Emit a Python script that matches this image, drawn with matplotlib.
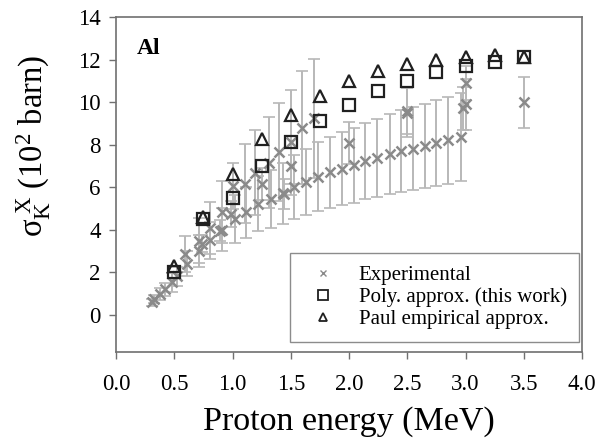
import matplotlib
matplotlib.use("Agg")
import matplotlib.pyplot as plt
import numpy as np

plt.rcParams['font.family'] = ['Liberation Serif', 'DejaVu Serif']
plt.rcParams['mathtext.fontset'] = 'custom'
plt.rcParams['mathtext.rm'] = 'Liberation Serif'
plt.rcParams['mathtext.it'] = 'Liberation Serif:italic'

# Experimental data set 1 (main series, ~25 % uncertainty)
exp1_x = [0.33, 0.42, 0.52, 0.61, 0.71, 0.81, 0.91, 1.02, 1.12, 1.22, 1.33, 1.43, 1.53,
          1.63, 1.73, 1.84, 1.94, 2.04, 2.14, 2.24, 2.35, 2.45, 2.55, 2.65, 2.75, 2.85, 2.96]
exp1_y = [0.75, 1.2, 1.8, 2.4, 3.0, 3.5, 4.0, 4.5, 4.83, 5.22, 5.46, 5.72, 6.02,
          6.24, 6.48, 6.7, 6.87, 7.03, 7.22, 7.37, 7.55, 7.69, 7.8, 7.94, 8.08, 8.2, 8.36]
exp1_err = [0.19, 0.3, 0.45, 0.6, 0.75, 0.88, 1.0, 1.12, 1.2, 1.3, 1.37, 1.43, 1.5,
            1.56, 1.62, 1.68, 1.72, 1.76, 1.8, 1.84, 1.89, 1.92, 1.95, 1.99, 2.02, 2.05, 2.09]

# Experimental data set 2 (steep series, ~30 % uncertainty)
exp2_x = [0.31, 0.38, 0.48, 0.59, 0.71, 0.81, 0.91, 1.0, 1.11, 1.19, 1.31, 1.40, 1.50, 1.60, 1.70]
exp2_y = [0.58, 0.98, 1.52, 2.86, 3.49, 4.09, 4.83, 6.05, 6.16, 6.67, 7.15, 7.66, 8.1, 8.8, 9.23]
exp2_err = [0.17, 0.29, 0.46, 0.86, 1.05, 1.23, 1.45, 1.1, 1.85, 2.0, 2.15, 2.3, 2.45, 2.65, 2.8]

# Experimental data set 3 (~12 % uncertainty)
exp3_x = [0.74, 0.89, 0.99, 1.25, 1.44, 1.50, 2.0, 2.5, 2.5, 3.0, 3.0, 2.98, 3.5]
exp3_y = [3.33, 3.96, 4.75, 6.16, 5.69, 7.0, 8.08, 9.5, 9.6, 10.9, 9.9, 9.7, 10.0]
exp3_err = [0.4, 0.5, 0.6, 0.75, 0.7, 0.85, 1.0, 1.15, 1.1, 0.8, 1.2, 1.0, 1.2]

# Model values
model_x = [0.5, 0.75, 1.0, 1.25, 1.5, 1.75, 2.0, 2.25, 2.5, 2.75, 3.0, 3.25, 3.5]
poly_y = [2.0, 4.5, 5.5, 7.0, 8.1, 9.1, 9.86, 10.5, 11.0, 11.4, 11.7, 11.9, 12.1]
paul_y = [2.3, 4.6, 6.6, 8.25, 9.4, 10.3, 11.0, 11.46, 11.8, 12.0, 12.1, 12.2, 12.1]

x_ticks = [0.0, 0.5, 1.0, 1.5, 2.0, 2.5, 3.0, 3.5, 4.0]
y_ticks = [0, 2, 4, 6, 8, 10, 12, 14]

fig = plt.figure(figsize=(5.96, 4.42), dpi=100)
ax = fig.add_axes([116/596, 1 - 352/442, (582-116)/596, (352-17)/442])

ecol = '#b8b8b8'
mcol = '#8a8a8a'
for xs, ys, es in [(exp1_x, exp1_y, exp1_err), (exp2_x, exp2_y, exp2_err), (exp3_x, exp3_y, exp3_err)]:
    ax.errorbar(xs, ys, yerr=es, fmt='none', ecolor=ecol, elinewidth=1.4, capsize=4, capthick=1.2, zorder=1)
    ax.plot(xs, ys, 'x', color=mcol, markersize=7, mew=1.8, zorder=2)

ax.plot(model_x, poly_y, 's', mfc='none', mec='#202020', markersize=9, mew=1.6, zorder=3)
ax.plot(model_x, paul_y, '^', mfc='none', mec='#202020', markersize=8, mew=1.6, zorder=3)

# Legend handles
h1, = ax.plot([], [], 'x', color=mcol, markersize=5, mew=1.0)
h2, = ax.plot([], [], 's', mfc='none', mec='#202020', markersize=7, mew=1.3)
h3, = ax.plot([], [], '^', mfc='none', mec='#202020', markersize=5.5, mew=1.3)
leg = ax.legend([h1, h2, h3], ['Experimental', 'Poly. approx. (this work)', 'Paul empirical approx.'],
                loc='lower right', bbox_to_anchor=(0.994, 0.03), fontsize=15, frameon=True,
                fancybox=False, edgecolor='#707070', borderpad=0.6, handletextpad=0.7,
                labelspacing=0.12, handlelength=2.0, borderaxespad=0.0)
leg.get_frame().set_linewidth(1.0)

ax.set_xlim(0, 4.0)
ax.set_ylim(-1.75, 14)
ax.set_xticks(x_ticks)
ax.set_xticklabels([f'{v:.1f}' for v in x_ticks])
ax.set_yticks(y_ticks)
ax.set_yticklabels([str(v) for v in y_ticks])
ax.tick_params(direction='out', length=5, width=1, color='#707070', labelsize=16.5)
ax.tick_params(axis='x', pad=11)
ax.tick_params(axis='y', pad=6)
for s in ax.spines.values():
    s.set_color('#707070')
    s.set_linewidth(1.2)

ax.text(0.18, 12.5, 'Al', fontsize=17, fontweight='bold', va='center', ha='left')

ax.set_xlabel('Proton energy (MeV)', fontsize=24.5, labelpad=8)
ax.set_ylabel(r'$\mathrm{\sigma_K^{\ X}}$ (10$^2$ barn)', fontsize=23.5)
ax.yaxis.set_label_coords(-0.135, 0.615)

fig.savefig('out.png', dpi=100)
